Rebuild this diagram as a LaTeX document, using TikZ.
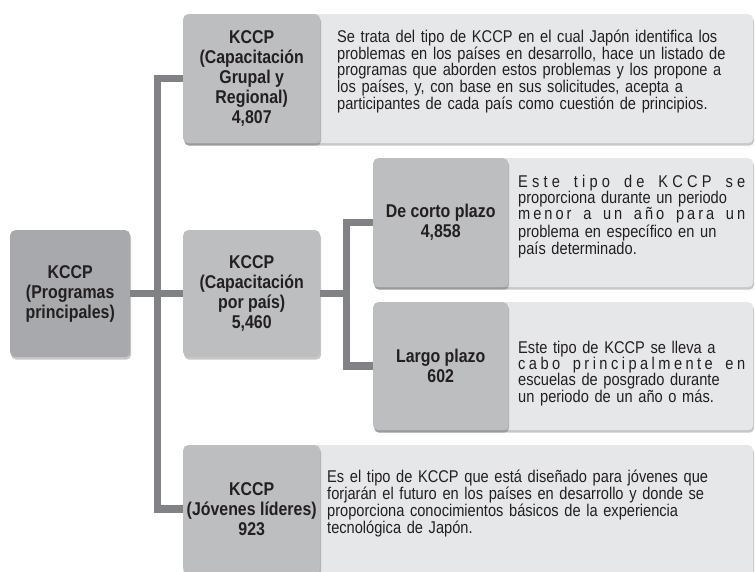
\documentclass[tikz,border=0pt]{standalone}
\usepackage{fontspec}
\setmainfont[FakeStretch=0.86]{Liberation Sans}
\newfontfamily\lblfam[FakeStretch=0.86]{Liberation Sans}
\usetikzlibrary{shadows}
\definecolor{lineg}{HTML}{808285}
\definecolor{rootg}{HTML}{A7A9AC}
\definecolor{boxg}{HTML}{BCBEC0}
\definecolor{panelg}{HTML}{E6E7E8}
\definecolor{txt}{HTML}{231F20}
\newcommand\lblfont{\lblfam\bfseries\fontsize{18.5}{20}\selectfont}
\newcommand\descfont{\fontsize{17}{16}\selectfont}
\newcommand\jl[1]{\makebox[\linewidth][s]{#1}}
\newcommand\LS{\hfill}
\newcommand\WS{\hfill\ \hfill}
\tikzset{
  shad/.style={drop shadow={shadow xshift=1pt, shadow yshift=-2.5pt, fill=black, opacity=0.22}},
  panel/.style={rounded corners=5pt, fill=panelg, shad, inner sep=0pt, anchor=north west},
  lbl/.style={rounded corners=5pt, fill=boxg, shad, inner sep=0pt, anchor=north west,
    align=center, font=\lblfont, text=txt},
  rootbox/.style={lbl, fill=rootg},
  desc/.style={anchor=base west, inner sep=0pt, font=\descfont, text=txt, align=left},
  conn/.style={draw=lineg, line width=7.5pt},
}
\begin{document}
\begin{tikzpicture}[x=1pt,y=-1pt]
\useasboundingbox (0,0) rectangle (755,572);
% description panels
\node[panel, minimum width=570pt, minimum height=129pt] (p1) at (183,14) {};
\node[panel, minimum width=380pt, minimum height=129pt] (p2) at (373,158) {};
\node[panel, minimum width=380pt, minimum height=128pt] (p3) at (373,302) {};
\node[panel, minimum width=570pt, minimum height=140pt] (p4) at (183,445) {};
% coordinates of the trunks
\coordinate (tx) at (157.5,0);
\coordinate (sx) at (346.5,0);
% label boxes
\node[rootbox, minimum width=120pt, minimum height=127pt] (root) at (10,230) {KCCP\\(Programas\\principales)};
\node[lbl, minimum width=137pt, minimum height=129pt] (b1) at (183,14) {KCCP\\(Capacitación\\Grupal y\\Regional)\\4,807};
\node[lbl, minimum width=137pt, minimum height=127pt] (b2) at (183,230) {KCCP\\(Capacitación\\por país)\\5,460};
\node[lbl, minimum width=135pt, minimum height=129pt] (s1) at (373,158) {De corto plazo\\4,858};
\node[lbl, minimum width=135pt, minimum height=128pt] (s2) at (373,302) {Largo plazo\\602};
\node[lbl, minimum width=137pt, minimum height=128pt] (b4) at (183,445) {KCCP\\(Jóvenes líderes)\\923};
% connectors
\draw[conn] (root.east) -- (b2.west);
\draw[conn] (b1.west) -| (tx |- b4.west) -- (b4.west);
\draw[conn] (b2.east) -- (sx |- b2.east);
\draw[conn] (s1.west) -| (sx |- s2.west) -- (s2.west);
% descriptions
\node[desc, text width=410pt] (d1) at (337,42.5) {%
\jl{Se trata del tipo de KCCP en el cual Japón identifica los}\\
\jl{problemas en los países en desarrollo, hace un listado de}\\
\jl{programas que aborden estos problemas y los propone a}\\
\jl{los países, y, con base en sus solicitudes, acepta a}\\
participantes de cada país como cuestión de principios.};
\node[desc, text width=227pt] (d2) at (518,188) {%
\jl{E\LS s\LS t\LS e\WS t\LS i\LS p\LS o\WS d\LS e\WS K\LS C\LS C\LS P\WS s\LS e}\\
\jl{proporciona durante un periodo}\\
\jl{m\LS e\LS n\LS o\LS r\WS a\WS u\LS n\WS a\LS ñ\LS o\WS p\LS a\LS r\LS a\WS u\LS n}\\
\jl{problema en específico en un}\\
país determinado.};
\node[desc, text width=227pt] (d3) at (518,353) {%
\jl{Este tipo de KCCP se lleva a}\\
\jl{c\LS a\LS b\LS o\WS p\LS r\LS i\LS n\LS c\LS i\LS p\LS a\LS l\LS m\LS e\LS n\LS t\LS e\WS e\LS n}\\
\jl{escuelas de posgrado durante}\\
un periodo de un año o más.};
\node[desc, text width=420pt] (d4) at (327,482) {%
\jl{Es el tipo de KCCP que está diseñado para jóvenes que}\\
\jl{forjarán el futuro en los países en desarrollo y donde se}\\
\jl{proporciona conocimientos básicos de la experiencia}\\
tecnológica de Japón.};
\end{tikzpicture}
\end{document}
